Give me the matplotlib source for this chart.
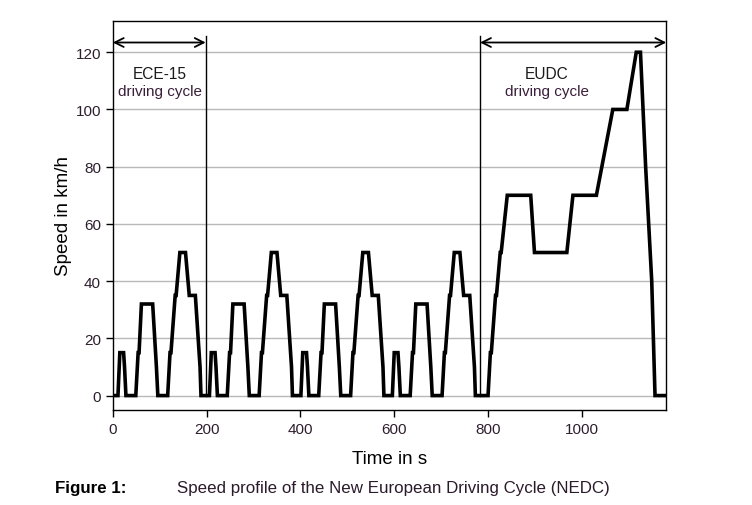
import matplotlib
matplotlib.use("Agg")
import matplotlib.pyplot as plt

plt.rcParams['font.family'] = ['Liberation Sans', 'DejaVu Sans']

# ECE-15 urban cycle, one repetition (time in s, speed in km/h)
ece_t = [0, 11, 15, 23, 25, 28, 49, 54, 56, 61, 85, 93, 96, 117, 122, 124, 133, 135, 143, 155, 163, 176, 186, 188, 195]
ece_v = [0, 0, 15, 15, 10, 0, 0, 15, 15, 32, 32, 10, 0, 0, 15, 15, 35, 35, 50, 50, 35, 35, 10, 0, 0]
ece_len = 195
ece_reps = 4

# EUDC extra-urban part, time relative to its start
eudc_t = [0, 20, 25, 27, 36, 38, 46, 48, 61, 111, 119, 188, 201, 251, 286, 316, 336, 345, 356, 369, 376, 400]
eudc_v = [0, 0, 15, 15, 35, 35, 50, 50, 70, 70, 50, 50, 70, 70, 100, 100, 120, 120, 80, 40, 0, 0]

# boundaries drawn in the figure
ece_end = 198
eudc_start = 783
t_end = 1180

time = []
speed = []
for r in range(ece_reps):
    for t, v in zip(ece_t, ece_v):
        time.append(t + r * ece_len)
        speed.append(v)
for t, v in zip(eudc_t, eudc_v):
    time.append(t + ece_len * ece_reps)
    speed.append(v)

fig = plt.figure(figsize=(7.52, 5.06), dpi=100)
ax = fig.add_axes([0.150, 0.188, 0.736, 0.769])

# grid
for y in range(0, 121, 20):
    ax.axhline(y, color='#b8b8b8', lw=1.0, zorder=1)

ax.plot(time, speed, color='black', lw=2.6, solid_joinstyle='miter', zorder=3)

# cycle separators and arrows
ax.plot([ece_end, ece_end], [0, 125.5], color='black', lw=1.0, zorder=2)
ax.plot([eudc_start, eudc_start], [0, 125.5], color='black', lw=1.0, zorder=2)
arrow = dict(arrowstyle='<->', color='black', lw=1.3, mutation_scale=16, shrinkA=0, shrinkB=0)
ax.annotate('', xy=(0, 123.4), xytext=(ece_end, 123.4), arrowprops=arrow)
ax.annotate('', xy=(eudc_start, 123.4), xytext=(t_end, 123.4), arrowprops=arrow)

ax.text(100, 112.5, 'ECE-15', ha='center', va='center', fontsize=11.2, color='#1a1a1a')
ax.text(100, 106.5, 'driving cycle', ha='center', va='center', fontsize=11, color='#3a1f3a')
ax.text(925, 112.5, 'EUDC', ha='center', va='center', fontsize=11.2, color='#1a1a1a')
ax.text(925, 106.5, 'driving cycle', ha='center', va='center', fontsize=11, color='#3a1f3a')

ax.set_xlim(0, t_end)
ax.set_ylim(-5, 131)
ax.set_xticks(range(0, 1001, 200))
ax.set_yticks(range(0, 121, 20))
ax.tick_params(direction='out', length=5, width=1, labelsize=11, labelcolor='#2e1f2e')
for s in ax.spines.values():
    s.set_linewidth(1.0)

ax.set_xlabel('Time in s', fontsize=13.5, labelpad=10)
ax.set_ylabel('Speed in km/h', fontsize=13.5)
ax.yaxis.set_label_coords(-0.073, 0.5)

fig.text(0.073, 0.035, 'Figure 1:', fontsize=12.2, fontweight='bold', va='center')
fig.text(0.235, 0.035, 'Speed profile of the New European Driving Cycle (NEDC)', fontsize=12.2, va='center', color='#2a1a2a')

fig.savefig('out.png', dpi=100)
